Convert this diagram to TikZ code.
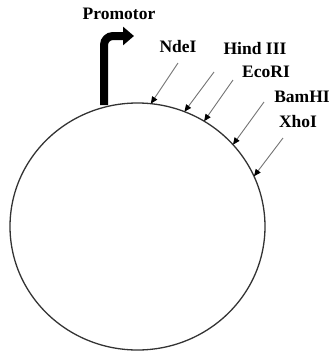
\documentclass[tikz,border=0pt]{standalone}
\usepackage{fontspec}
\setmainfont{Liberation Serif}
\usetikzlibrary{arrows.meta}
\tikzset{
  lbl/.style={font=\fontsize{17.5}{20}\selectfont\bfseries, inner sep=0pt},
  siteline/.style={draw=black!55, line width=0.9pt, -{Triangle[length=7pt,width=6pt,color=black]}},
  plasmid/.style={draw=black!80, line width=1.3pt},
  promo/.style={line width=8pt, rounded corners=9pt, -{Triangle[length=11pt,width=18pt]}}
}
\begin{document}
\begin{tikzpicture}[x=1pt,y=-1pt]
\useasboundingbox (0,0) rectangle (334,354);
\draw[plasmid] (137.5,226.5) ellipse [x radius=127.5, y radius=123.5];
% points on the plasmid
\coordinate (pP) at (104,105);
\coordinate (pN) at ({137.5+127.5*cos(84)},{226.5-123.5*sin(84)});
\coordinate (pH) at ({137.5+127.5*cos(68.4)},{226.5-123.5*sin(68.4)});
\coordinate (pE) at ({137.5+127.5*cos(58.5)},{226.5-123.5*sin(58.5)});
\coordinate (pB) at ({137.5+127.5*cos(41.5)},{226.5-123.5*sin(41.5)});
\coordinate (pX) at ({137.5+127.5*cos(24)},{226.5-123.5*sin(24)});
% labels
\node[lbl] (promotor) at (119,14) {Promotor};
\node[lbl] (ndei) at (178,47) {NdeI};
\node[lbl] (hind) at (255,49) {Hind III};
\node[lbl] (ecori) at (266,72) {EcoRI};
\node[lbl] (bamhi) at (302,97) {BamHI};
\node[lbl] (xhoi) at (298,122) {XhoI};
% line starts
\coordinate (sN) at (178,63);
\coordinate (sH) at (214,72);
\coordinate (sE) at (233,80);
\coordinate (sB) at (264,102);
\coordinate (sX) at (283,138);
\draw[siteline] (sN) -- (pN);
\draw[siteline] (sH) -- (pH);
\draw[siteline] (sE) -- (pE);
\draw[siteline] (sB) -- (pB);
\draw[siteline] (sX) -- (pX);
% promoter arrow
\coordinate (pcorner) at (104,36);
\coordinate (ptip) at (134,36);
\draw[promo] (pP) -- (pcorner) -- (ptip);
\end{tikzpicture}
\end{document}
